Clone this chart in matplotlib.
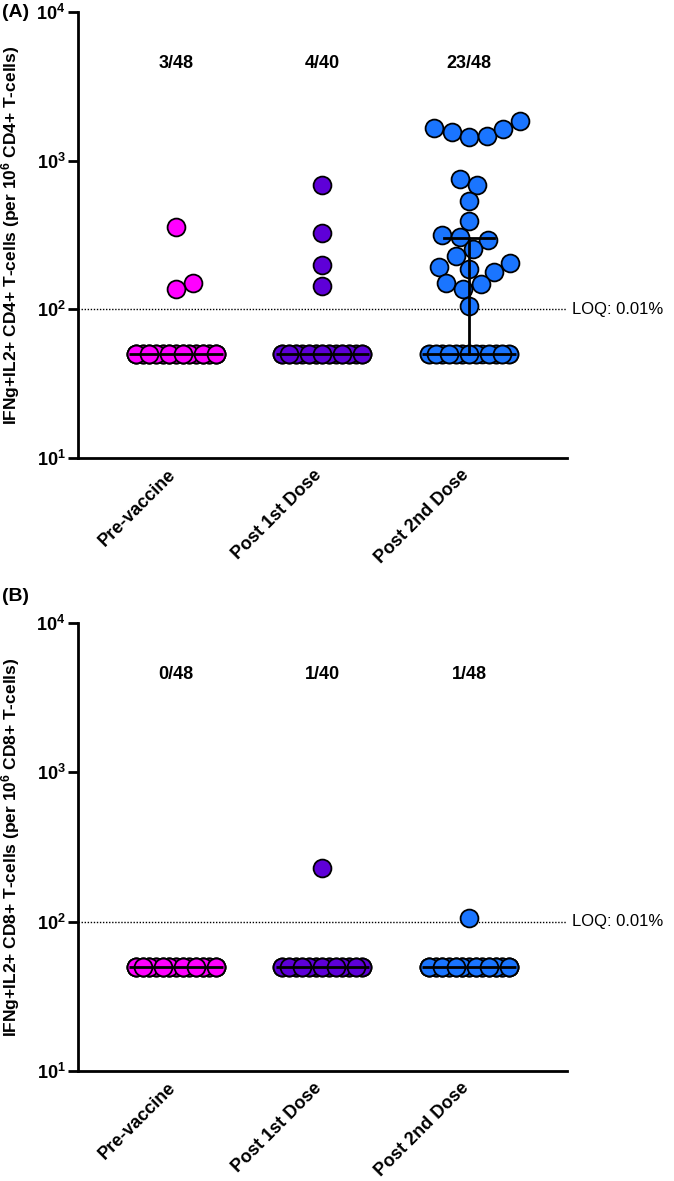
import matplotlib
matplotlib.use('Agg')
import matplotlib.pyplot as plt
import matplotlib.transforms as mtransforms
from matplotlib.ticker import FuncFormatter
import numpy as np

plt.rcParams['font.family'] = ['Liberation Sans', 'DejaVu Sans']
plt.rcParams['mathtext.fontset'] = 'custom'
plt.rcParams['mathtext.rm'] = 'Liberation Sans:bold'
plt.rcParams['mathtext.bf'] = 'Liberation Sans:bold'
plt.rcParams['mathtext.default'] = 'bf'

groups = ['Pre-vaccine', 'Post 1st Dose', 'Post 2nd Dose']
colors = ['#FF00FF', '#5E00D8', '#1A75FF']
floor_value = 50      # values below LOQ are plotted at 50
loq = 100

# panel A: CD4+ responders (values above LOQ), rest sit at the floor
cd4_pos = [
    [356, 150, 136],
    [682, 324, 198, 143],
    [1648, 1549, 1435, 1456, 1622, 1837, 749, 682, 532, 391, 315, 291,
     305, 253, 227, 204, 186, 194, 177, 150, 147, 138, 106],
]
cd4_n = [48, 40, 48]
cd4_q3 = [50, 50, 300]
cd4_median = [50, 50, 50]
cd4_frac = ['3/48', '4/40', '23/48']

# panel B: CD8+
cd8_pos = [
    [],
    [229],
    [106],
]
cd8_n = [48, 40, 48]
cd8_q3 = [50, 50, 50]
cd8_median = [50, 50, 50]
cd8_frac = ['0/48', '1/40', '1/48']

# which side the swarm spreads to first, per column
swarm_start = [1, 1, -1]


def swarm(ax, xc, vals, side=1, d_px=18.0, max_half_px=40.0, n_slots=13):
    """beeswarm offsets (in data units) computed in display space"""
    vals = np.asarray(vals, dtype=float)
    x0 = ax.transData.transform((0, 1))[0]
    x1 = ax.transData.transform((1, 1))[0]
    px_per_x = x1 - x0
    ys = np.array([ax.transData.transform((0, v))[1] for v in vals])
    offs = np.zeros(len(vals))
    done = np.zeros(len(vals), bool)
    placed = []
    uniq, cnt = np.unique(vals, return_counts=True)
    for u, c in zip(uniq, cnt):
        if c * d_px > 2 * max_half_px:
            # too many tied points: share a few slots across the column
            idx = np.where(vals == u)[0]
            slots = np.linspace(-max_half_px, max_half_px, n_slots)
            xs = np.array([slots[(k * 5) % n_slots] for k in range(c)])
            offs[idx] = xs
            done[idx] = True
            placed += [(x, ys[idx[0]]) for x in slots]
    for i in np.argsort(vals, kind='stable'):
        if done[i]:
            continue
        y = ys[i]
        intervals = []
        for (px, py) in placed:
            dy = abs(py - y)
            if dy < d_px:
                h = np.sqrt(d_px ** 2 - dy ** 2)
                intervals.append((px - h, px + h))
        cands = [0.0] + [e for iv in intervals for e in iv]
        ok = [c for c in cands if all(not (a + 1e-6 < c < b - 1e-6) for a, b in intervals)]
        best = min(ok, key=lambda c: (round(abs(c), 3), -side * np.sign(c)))
        if best != 0:
            side = -side
        offs[i] = best
        placed.append((best, y))
    return xc + offs / px_per_x


def draw_panel(ax, pos_vals, n_total, medians, q3s, fracs, ylabel, letter):
    ax.set_yscale('log')
    ax.set_ylim(10, 1e4)
    ax.set_xlim(-0.67, 2.67)
    ax.set_yticks([10, 100, 1000, 10000])
    ax.minorticks_off()
    ax.yaxis.set_major_formatter(FuncFormatter(lambda v, p: '10$^{%d}$' % round(np.log10(v))))
    for s in ['top', 'right']:
        ax.spines[s].set_visible(False)
    for s in ['left', 'bottom']:
        ax.spines[s].set_linewidth(2.0)
    ax.tick_params(axis='y', length=7, width=2.0, labelsize=13, pad=2)
    for lab in ax.get_yticklabels():
        lab.set_fontweight('bold')
    ax.tick_params(axis='x', length=0, pad=6)
    ax.set_xticks(range(len(groups)))
    ax.set_xticklabels(groups, rotation=45, ha='right', va='top',
                       rotation_mode='anchor', fontsize=13, fontweight='bold')
    shift = mtransforms.ScaledTranslation(-0.09, 0, ax.figure.dpi_scale_trans)
    for lab in ax.get_xticklabels():
        lab.set_transform(lab.get_transform() + shift)

    ax.axhline(loq, color='black', linestyle=(0, (1, 1.2)), linewidth=1.0,
               zorder=1, xmin=0, xmax=1)
    ax.text(1.01, loq, 'LOQ: 0.01%', transform=ax.get_yaxis_transform(),
            ha='left', va='center', fontsize=12)

    for g in range(len(groups)):
        vals = [floor_value] * (n_total[g] - len(pos_vals[g])) + list(pos_vals[g])
        xs = swarm(ax, g, vals, side=swarm_start[g])
        ax.scatter(xs, vals, s=165, c=colors[g], edgecolors='black',
                   linewidths=1.3, zorder=3, clip_on=False)
        # median with upper quartile bar
        ax.plot([g - 0.32, g + 0.32], [medians[g]] * 2, color='black',
                linewidth=2.0, zorder=4, solid_capstyle='butt')
        if q3s[g] > medians[g]:
            ax.plot([g, g], [medians[g], q3s[g]], color='black', linewidth=2.0, zorder=4)
            ax.plot([g - 0.17, g + 0.17], [q3s[g]] * 2, color='black',
                    linewidth=2.0, zorder=4)
        ax.text(g, 4500, fracs[g], ha='center', va='center', fontsize=13,
                fontweight='bold')

    ax.set_ylabel(ylabel, fontsize=12.5, fontweight='bold')
    ax.yaxis.set_label_coords(-0.115, 0.5)
    ax.text(-0.155, 1.0, letter, transform=ax.transAxes, ha='left', va='center',
            fontsize=14, fontweight='bold')


fig = plt.figure(figsize=(6.74, 11.81), dpi=100)
axA = fig.add_axes([0.1157, 0.6122, 0.7255, 0.3776])
axB = fig.add_axes([0.1157, 0.0931, 0.7255, 0.3794])

draw_panel(axA, cd4_pos, cd4_n, cd4_median, cd4_q3, cd4_frac,
           'IFNg+IL2+ CD4+ T-cells (per 10$^{6}$ CD4+ T-cells)', '(A)')
draw_panel(axB, cd8_pos, cd8_n, cd8_median, cd8_q3, cd8_frac,
           'IFNg+IL2+ CD8+ T-cells (per 10$^{6}$ CD8+ T-cells)', '(B)')
axB.texts[-1].set_position((-0.155, 1.06))

fig.savefig('out.png', dpi=100)
